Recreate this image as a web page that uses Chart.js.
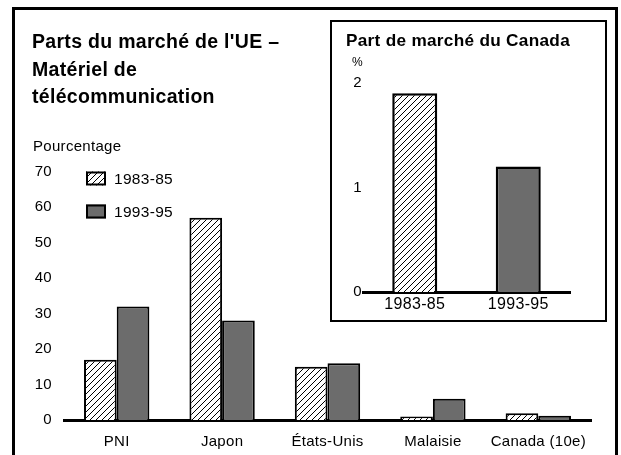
<!DOCTYPE html>
<html>
<head>
<meta charset="utf-8">
<script src="https://cdn.jsdelivr.net/npm/chart.js@4/dist/chart.umd.min.js"></script>
<style>
  body { margin: 0; background: #fff; overflow: hidden; }
  #frame { position: absolute; left: 12px; top: 7px; width: 600px; height: 460px; border: 3px solid #000; }
  #mainBox { position: absolute; left: 0; top: 0; width: 621px; height: 455px; }
  #insetBox { position: absolute; left: 330px; top: 20px; width: 273px; height: 298px; border: 2px solid #000; background: #fff; }
</style>
</head>
<body>
<div id="frame"></div>
<div id="mainBox"><canvas id="chartMain"></canvas></div>
<div id="insetBox"><canvas id="chartCanada"></canvas></div>
<script>
// data
var categories = ["PNI", "Japon", "États-Unis", "Malaisie", "Canada (10e)"];
var share8385 = [17, 57, 15, 1, 1.9];
var share9395 = [32, 28, 16, 6, 1.2];
var periods = ["1983-85", "1993-95"];
var canadaShare = [1.9, 1.2];
var mainTitle = ["Parts du marché de l'UE –", "Matériel de", "télécommunication"];
var insetTitle = "Part de marché du Canada";

var FONT = "'Liberation Sans', Arial, sans-serif";
var GRAY = "#6c6c6c";
var LS = "0.3px";
Chart.defaults.font.family = FONT;
Chart.defaults.color = "#000";

function hatch(step) {
  var c = document.createElement("canvas");
  c.width = step;
  c.height = step;
  var g = c.getContext("2d");
  g.fillStyle = "#fff";
  g.fillRect(0, 0, step, step);
  g.strokeStyle = "#000";
  g.lineWidth = 1;
  g.beginPath();
  g.moveTo(0, step); g.lineTo(step, 0);
  g.moveTo(-1, 1); g.lineTo(1, -1);
  g.moveTo(step - 1, step + 1); g.lineTo(step + 1, step - 1);
  g.stroke();
  return g.createPattern(c, "repeat");
}
var HATCH = hatch(6);

// a bit of tracking, like the print font
var spacing = {
  id: "spacing",
  beforeUpdate(chart) { chart.ctx.letterSpacing = LS; },
  beforeDraw(chart) { chart.ctx.letterSpacing = LS; }
};

// little legend inside the plot, top left
var boxLegend = {
  id: "boxLegend",
  afterDatasetsDraw(chart, args, opts) {
    if (!opts.display) return;
    var ctx = chart.ctx;
    var a = chart.chartArea;
    ctx.save();
    chart.data.datasets.forEach(function (ds, i) {
      var x = a.left + opts.x;
      var y = a.top + opts.y + i * opts.step;
      ctx.fillStyle = ds.backgroundColor;
      ctx.fillRect(x, y, opts.boxWidth, opts.boxHeight);
      ctx.lineWidth = 2;
      ctx.strokeStyle = "#000";
      ctx.strokeRect(x + 1, y + 1, opts.boxWidth - 2, opts.boxHeight - 2);
      ctx.fillStyle = "#000";
      ctx.font = opts.fontSize + "px " + FONT;
      ctx.textBaseline = "middle";
      ctx.fillText(ds.label, x + opts.boxWidth + 8, y + opts.boxHeight / 2 + 1);
    });
    ctx.restore();
  }
};

// unit text above the value axis
var unitLabel = {
  id: "unitLabel",
  afterDraw(chart, args, opts) {
    var ctx = chart.ctx;
    var s = chart.scales.y;
    ctx.save();
    ctx.fillStyle = "#000";
    ctx.font = opts.fontSize + "px " + FONT;
    ctx.textBaseline = "middle";
    ctx.fillText(opts.text, s.left + opts.dx, chart.chartArea.top - opts.dy);
    ctx.restore();
  }
};

new Chart(document.getElementById("chartMain"), {
  type: "bar",
  data: {
    labels: categories,
    datasets: [
      { label: periods[0], data: share8385, backgroundColor: HATCH, borderColor: "#000", borderWidth: 2 },
      { label: periods[1], data: share9395, backgroundColor: GRAY, borderColor: "#000", borderWidth: 2 }
    ]
  },
  options: {
    responsive: true,
    maintainAspectRatio: false,
    animation: false,
    layout: { padding: { left: 32, right: 30, top: 0, bottom: 6 } },
    datasets: { bar: { categoryPercentage: 0.62, barPercentage: 1 } },
    scales: {
      x: {
        afterFit: function (s) { s.height = 29; },
        grid: { display: false, drawTicks: false },
        border: { color: "#000", width: 3 },
        ticks: { font: { size: 15 }, padding: 13, maxRotation: 0, autoSkip: false }
      },
      y: {
        min: 0,
        max: 70,
        afterFit: function (s) { s.width = 32; },
        grid: { display: false, drawTicks: false },
        border: { display: false },
        ticks: { stepSize: 10, font: { size: 15 }, padding: 12 }
      }
    },
    plugins: {
      legend: { display: false },
      tooltip: { enabled: false },
      title: {
        display: true,
        text: mainTitle,
        align: "start",
        color: "#000",
        font: { size: 19.5, weight: "bold", lineHeight: 1.41 },
        padding: { top: 29, bottom: 60 }
      },
      boxLegend: { display: true, x: 22, y: 0, step: 33, boxWidth: 20, boxHeight: 14, fontSize: 15.5 },
      unitLabel: { text: "Pourcentage", dx: 1, dy: 25, fontSize: 15 }
    }
  },
  plugins: [spacing, boxLegend, unitLabel]
});

new Chart(document.getElementById("chartCanada"), {
  type: "bar",
  data: {
    labels: periods,
    datasets: [
      { label: insetTitle, data: canadaShare, backgroundColor: [HATCH, GRAY], borderColor: "#000", borderWidth: 2.5 }
    ]
  },
  options: {
    responsive: true,
    maintainAspectRatio: false,
    animation: false,
    layout: { padding: { left: 14, right: 35, top: 0, bottom: 8 } },
    datasets: { bar: { categoryPercentage: 1, barPercentage: 0.435 } },
    scales: {
      x: {
        afterFit: function (s) { s.height = 20; },
        grid: { display: false, drawTicks: false },
        border: { color: "#000", width: 3 },
        ticks: { font: { size: 16 }, padding: 3, maxRotation: 0, autoSkip: false }
      },
      y: {
        min: 0,
        max: 2,
        afterFit: function (s) { s.width = 17; },
        grid: { display: false, drawTicks: false },
        border: { display: false },
        ticks: { stepSize: 1, font: { size: 15 }, padding: 1 }
      }
    },
    plugins: {
      legend: { display: false },
      tooltip: { enabled: false },
      title: {
        display: true,
        text: insetTitle,
        align: "start",
        color: "#000",
        font: { size: 17.3, weight: "bold", lineHeight: 1.2 },
        padding: { top: 9, bottom: 31 }
      },
      boxLegend: { display: false },
      unitLabel: { text: "%", dx: 6, dy: 20, fontSize: 12 }
    }
  },
  plugins: [spacing, boxLegend, unitLabel]
});
</script>
</body>
</html>
